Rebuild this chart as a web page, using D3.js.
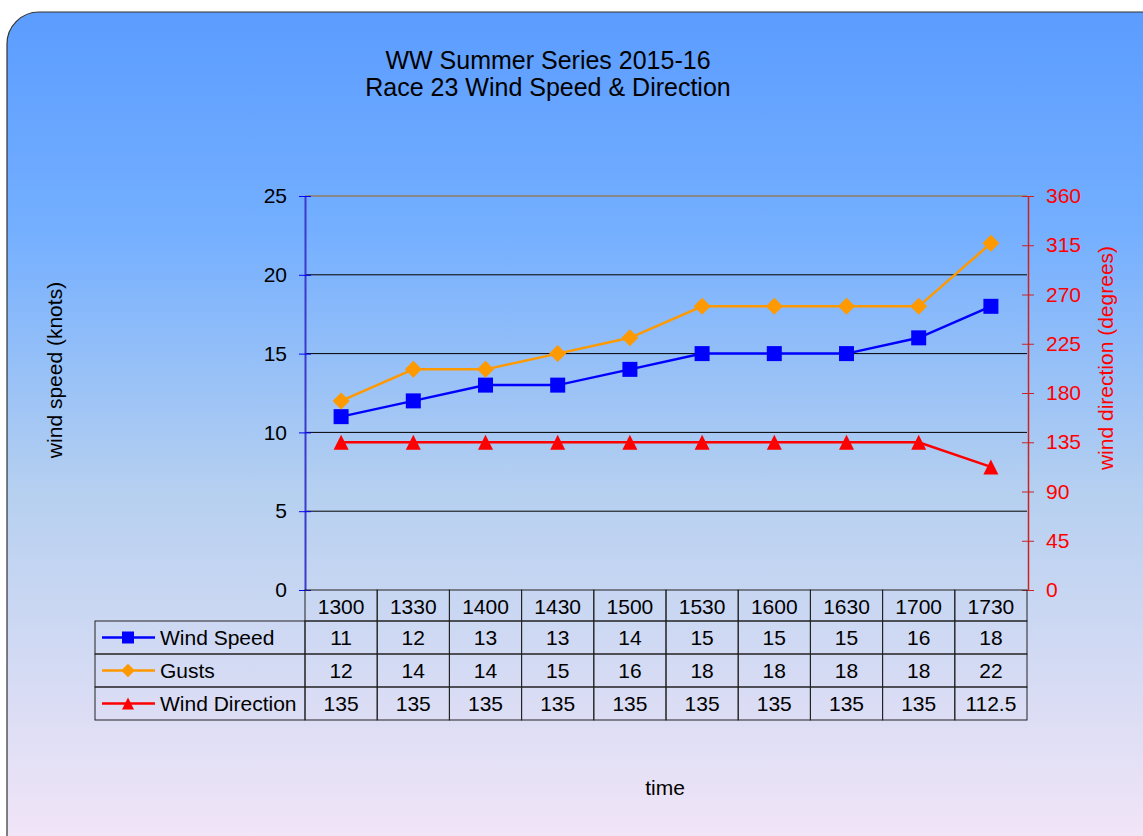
<!DOCTYPE html>
<html>
<head>
<meta charset="utf-8">
<title>race23</title>
<script src="https://cdn.jsdelivr.net/npm/d3@7"></script>
<style>
  body { margin: 0; background: #fff; }
  svg text { font-family: "Liberation Sans", Arial, sans-serif; }
</style>
</head>
<body>
<script>
// data
var times = ["1300","1330","1400","1430","1500","1530","1600","1630","1700","1730"];
var windSpeed = [11,12,13,13,14,15,15,15,16,18];
var gusts = [12,14,14,15,16,18,18,18,18,22];
var windDir = [135,135,135,135,135,135,135,135,135,112.5];
var speedTicks = [0,5,10,15,20,25];
var dirTicks = [0,45,90,135,180,225,270,315,360];

var W = 1143, H = 836;
var plot = {left: 305, top: 196, right: 1027, bottom: 590};
var rowH = 33;
var fs = 21;

var svg = d3.select("body").append("svg").attr("width", W).attr("height", H);

// background gradient
var grad = svg.append("defs").append("linearGradient").attr("id","bg")
  .attr("x1",0).attr("y1",0).attr("x2",0).attr("y2",1);
grad.append("stop").attr("offset","0%").attr("stop-color","#5b9cff");
grad.append("stop").attr("offset","25%").attr("stop-color","#74afff");
grad.append("stop").attr("offset","55%").attr("stop-color","#b6d0f0");
grad.append("stop").attr("offset","100%").attr("stop-color","#fae8f8");

svg.append("rect").attr("x",7).attr("y",12).attr("width",W+40).attr("height",H+40)
  .attr("rx",32).attr("ry",32).attr("fill","url(#bg)").attr("stroke","#333").attr("stroke-width",1.2);

// title
svg.append("text").attr("x",548).attr("y",69).attr("text-anchor","middle").attr("font-size",25).text("WW Summer Series 2015-16");
svg.append("text").attr("x",548).attr("y",96).attr("text-anchor","middle").attr("font-size",25).text("Race 23 Wind Speed & Direction");

var x = d3.scaleBand().domain(times).range([plot.left, plot.right]);
var y = d3.scaleLinear().domain([0,25]).range([plot.bottom, plot.top]);
var y2 = d3.scaleLinear().domain([0,360]).range([plot.bottom, plot.top]);
var cx = function(d, i) { return x(times[i]) + x.bandwidth()/2; };

// gridlines
svg.append("g").selectAll("line").data(speedTicks.filter(function(t){return t>0 && t<25;})).enter()
  .append("line").attr("x1",plot.left).attr("x2",plot.right)
  .attr("y1",function(d){return y(d);}).attr("y2",function(d){return y(d);})
  .attr("stroke","#000").attr("stroke-width",1);
svg.append("line").attr("x1",plot.left).attr("x2",plot.right).attr("y1",plot.top).attr("y2",plot.top)
  .attr("stroke","#888").attr("stroke-width",2);

// left axis
var gl = svg.append("g").attr("transform","translate(" + plot.left + ",0)")
  .call(d3.axisLeft(y).tickValues(speedTicks).tickSizeInner(6).tickSizeOuter(0).tickPadding(12));
gl.select(".domain").attr("stroke","#3a3acc").attr("stroke-width",2);
gl.selectAll(".tick line").attr("stroke","#0000ff").attr("x2",6).attr("x1",-6);
gl.selectAll(".tick text").attr("font-size",fs).attr("fill","#000").attr("font-family","Liberation Sans, Arial, sans-serif");

// right axis
var gr = svg.append("g").attr("transform","translate(" + (plot.right+1) + ",0)")
  .call(d3.axisRight(y2).tickValues(dirTicks).tickSizeInner(6).tickSizeOuter(0).tickPadding(12));
gr.select(".domain").attr("stroke","#cc2222").attr("stroke-width",1.5);
gr.selectAll(".tick line").attr("stroke","#cc2222").attr("x1",-6).attr("x2",6);
gr.selectAll(".tick text").attr("font-size",fs).attr("fill","#ff0000").attr("font-family","Liberation Sans, Arial, sans-serif");

// axis titles
svg.append("text").attr("transform","translate(62,370) rotate(-90)").attr("text-anchor","middle")
  .attr("font-size",fs).text("wind speed (knots)");
svg.append("text").attr("transform","translate(1113,358) rotate(-90)").attr("text-anchor","middle")
  .attr("font-size",fs).attr("fill","#ff0000").text("wind direction (degrees)");
svg.append("text").attr("x",665).attr("y",795).attr("text-anchor","middle").attr("font-size",fs).text("time");

// marker shapes (size = full width in px)
var square = {draw: function(ctx, s) { ctx.rect(-s/2, -s/2, s, s); }};
var diamond = {draw: function(ctx, s) {
  var r = s / 2;
  ctx.moveTo(0, -r); ctx.lineTo(r, 0); ctx.lineTo(0, r); ctx.lineTo(-r, 0); ctx.closePath();
}};
var triangle = {draw: function(ctx, s) {
  var r = s / 2;
  ctx.moveTo(0, -r); ctx.lineTo(r, r); ctx.lineTo(-r, r); ctx.closePath();
}};
var series = [
  {name: "Wind Speed", values: windSpeed, scale: y, color: "#0000ff", shape: square, size: 15},
  {name: "Gusts", values: gusts, scale: y, color: "#ff9900", shape: diamond, size: 17},
  {name: "Wind Direction", values: windDir, scale: y2, color: "#ff0000", shape: triangle, size: 15}
];

series.forEach(function(s) {
  var line = d3.line().x(function(d,i){return cx(d,i);}).y(function(d){return s.scale(d);});
  svg.append("path").datum(s.values).attr("d", line).attr("fill","none").attr("stroke",s.color).attr("stroke-width",2.5);
  svg.append("g").selectAll("path").data(s.values).enter().append("path")
    .attr("transform",function(d,i){return "translate(" + cx(d,i) + "," + s.scale(d) + ")";})
    .attr("d", d3.symbol().type(s.shape).size(s.size)).attr("fill",s.color);
});

// data table
var tbl = svg.append("g");
var tableLeft = 95;
// header row
times.forEach(function(t) {
  tbl.append("rect").attr("x",x(t)).attr("y",plot.bottom).attr("width",x.bandwidth()).attr("height",rowH-2)
    .attr("fill","none").attr("stroke","#222").attr("stroke-width",1);
  tbl.append("text").attr("x",x(t)+x.bandwidth()/2).attr("y",plot.bottom+24).attr("text-anchor","middle")
    .attr("font-size",fs).text(t);
});
series.forEach(function(s, r) {
  var ry = plot.bottom + rowH - 2 + r*rowH;
  tbl.append("rect").attr("x",tableLeft).attr("y",ry).attr("width",plot.left-tableLeft).attr("height",rowH)
    .attr("fill","none").attr("stroke","#222").attr("stroke-width",1);
  tbl.append("line").attr("x1",tableLeft+7).attr("x2",tableLeft+60).attr("y1",ry+rowH/2).attr("y2",ry+rowH/2)
    .attr("stroke",s.color).attr("stroke-width",2.5);
  tbl.append("path").attr("transform","translate(" + (tableLeft+33) + "," + (ry+rowH/2) + ")")
    .attr("d", d3.symbol().type(s.shape).size(s.size*0.8)).attr("fill",s.color);
  tbl.append("text").attr("x",tableLeft+65).attr("y",ry+24).attr("font-size",fs).text(s.name);
  s.values.forEach(function(v, i) {
    tbl.append("rect").attr("x",x(times[i])).attr("y",ry).attr("width",x.bandwidth()).attr("height",rowH)
      .attr("fill","none").attr("stroke","#222").attr("stroke-width",1);
    tbl.append("text").attr("x",cx(v,i)).attr("y",ry+24).attr("text-anchor","middle").attr("font-size",fs).text(v);
  });
});
</script>
</body>
</html>
